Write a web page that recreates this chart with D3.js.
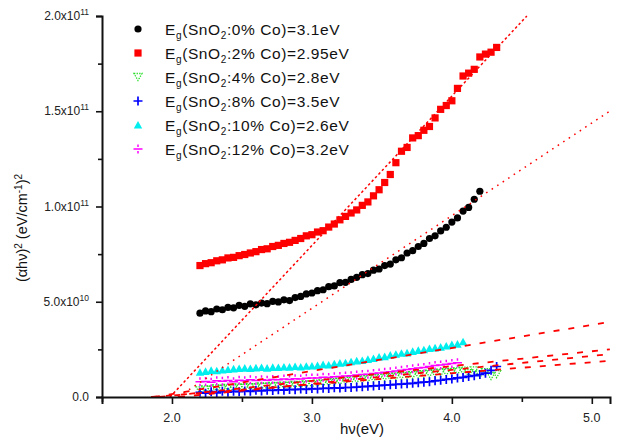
<!DOCTYPE html>
<html>
<head>
<meta charset="utf-8">
<script src="https://cdnjs.cloudflare.com/ajax/libs/d3/7.8.5/d3.min.js"></script>
<style>
  body { margin: 0; background: #fff; }
  svg { display: block; font-family: "Liberation Sans", Arial, sans-serif; }
</style>
</head>
<body>
<svg id="chart" width="620" height="437"></svg>
<script>
// photon energy (eV), shared by all series
const hv = [2.20,2.24,2.28,2.32,2.36,2.40,2.44,2.48,2.52,2.56,2.60,2.64,2.68,2.72,2.76,2.80,2.84,2.88,2.92,2.96,
  3.00,3.04,3.08,3.12,3.16,3.20,3.24,3.28,3.32,3.36,3.40,3.44,3.48,3.52,3.56,3.60,3.64,3.68,3.72,3.76,
  3.80,3.84,3.88,3.92,3.96,4.00,4.04,4.08,4.12,4.16,4.20,4.24,4.28,4.32];

// (alpha h nu)^2 in units of 1e11
const co0 = [0.44,0.452,0.448,0.462,0.458,0.47,0.468,0.481,0.476,0.489,0.484,0.493,0.49,0.502,0.499,0.51,0.506,0.522,0.528,0.541,
  0.546,0.558,0.563,0.579,0.583,0.6,0.602,0.617,0.628,0.642,0.648,0.666,0.672,0.69,0.698,0.72,0.731,0.756,0.768,0.79,
  0.806,0.832,0.846,0.872,0.891,0.918,0.94,0.976,0.995,1.038,1.08];
const co2 = [0.69,0.70,0.705,0.715,0.72,0.73,0.733,0.742,0.748,0.756,0.763,0.774,0.778,0.79,0.796,0.806,0.812,0.822,0.832,0.846,
  0.852,0.866,0.873,0.892,0.908,0.93,0.948,0.966,0.982,1.006,1.024,1.056,1.088,1.126,1.168,1.23,1.29,1.31,1.36,1.372,
  1.40,1.42,1.465,1.51,1.53,1.555,1.62,1.685,1.70,1.72,1.785,1.80,1.81,1.835];
const co4 = [0.035,0.04,0.038,0.045,0.042,0.048,0.045,0.05,0.048,0.052,0.05,0.055,0.053,0.058,0.056,0.06,0.058,0.063,0.062,0.066,
  0.065,0.07,0.072,0.075,0.078,0.08,0.085,0.088,0.09,0.092,0.095,0.098,0.1,0.103,0.105,0.108,0.11,0.112,0.115,0.118,
  0.12,0.122,0.125,0.128,0.13,0.132,0.135,0.138,0.125,0.14,0.118,0.13,0.11,0.12];
const co8 = [0.025,0.02,0.028,0.022,0.03,0.025,0.03,0.028,0.032,0.03,0.035,0.032,0.036,0.034,0.038,0.036,0.04,0.038,0.042,0.04,
  0.044,0.042,0.046,0.045,0.048,0.047,0.05,0.05,0.052,0.054,0.056,0.058,0.06,0.062,0.064,0.066,0.068,0.07,0.072,0.075,
  0.078,0.08,0.085,0.088,0.092,0.095,0.1,0.103,0.108,0.112,0.118,0.125,0.14,0.16];
const co10 = [0.13,0.135,0.14,0.138,0.142,0.145,0.148,0.15,0.152,0.15,0.153,0.155,0.152,0.156,0.155,0.158,0.157,0.16,0.158,0.162,
  0.163,0.165,0.17,0.168,0.175,0.178,0.18,0.185,0.19,0.192,0.198,0.202,0.21,0.212,0.22,0.225,0.23,0.232,0.24,0.245,
  0.248,0.255,0.258,0.262,0.268,0.275,0.278,0.29];
const co12 = [0.08,0.082,0.078,0.085,0.083,0.086,0.08,0.088,0.085,0.09,0.087,0.09,0.088,0.092,0.09,0.094,0.092,0.096,0.095,0.098,
  0.1,0.1,0.104,0.102,0.106,0.108,0.11,0.112,0.115,0.118,0.12,0.124,0.126,0.13,0.133,0.136,0.14,0.145,0.148,0.152,
  0.155,0.16,0.165,0.168,0.172,0.176,0.18];

const legendPct = ["0%", "2%", "4%", "8%", "10%", "12%"];
const legendEg = ["3.1", "2.95", "2.8", "3.5", "2.6", "3.2"];

// tangent (fit) lines: [x0, x1] in eV, [y0, y1] in 1e11
const fitX = [[1.986, 4.536], [2.043, 5.129], [1.871, 5.129], [1.91, 5.129], [2.05, 5.129], [1.85, 5.129]];
const fitY = [[0, 2.0], [0, 1.501], [0, 0.394], [0, 0.25], [0, 0.225], [0, 0.19]];
const fitDash = ["2.5,2.5", "1.6,5", "6,9", "6,9", "6,9", "6,9"];

const xTicks = [2, 3, 4, 5];
const xTickLabels = ["2.0", "3.0", "4.0", "5.0"];
const xMinor = [1.5, 2.5, 3.5, 4.5];
const yTicks = [0, 0.5, 1.0, 1.5, 2.0];
const yTickLabels = [["0.0", ""], ["5.0x10", "10"], ["1.0x10", "11"], ["1.5x10", "11"], ["2.0x10", "11"]];
const yMinor = [0.25, 0.75, 1.25, 1.75];

const svg = d3.select("#chart");
const x = d3.scaleLinear().domain([1.5, 5.13]).range([102, 610]);
const y = d3.scaleLinear().domain([0, 2.0]).range([397, 16]);

const series = [
  { vals: co0, color: "#000000", shape: "circle" },
  { vals: co2, color: "#ff0000", shape: "square" },
  { vals: co4, color: "#22dd22", shape: "tridown" },
  { vals: co8, color: "#0000ff", shape: "plus" },
  { vals: co10, color: "#00eeee", shape: "triup" },
  { vals: co12, color: "#ff00ff", shape: "divide" }
];

function marker(g, shape, color, cx, cy) {
  if (shape === "circle") {
    g.append("circle").attr("cx", cx).attr("cy", cy).attr("r", 3.6).attr("fill", color);
  } else if (shape === "square") {
    g.append("rect").attr("x", cx - 3.6).attr("y", cy - 3.6).attr("width", 7.2).attr("height", 7.2).attr("fill", color);
  } else if (shape === "tridown") {
    g.append("path").attr("d", `M${cx-4},${cy-3.5}L${cx+4},${cy-3.5}L${cx},${cy+3.5}Z`)
      .attr("fill", "none").attr("stroke", color).attr("stroke-width", 1.3).attr("stroke-dasharray", "1.3,1.3");
  } else if (shape === "plus") {
    g.append("path").attr("d", `M${cx-4.5},${cy}H${cx+4.5}M${cx},${cy-4.5}V${cy+4.5}`)
      .attr("stroke", color).attr("stroke-width", 1.7);
  } else if (shape === "triup") {
    g.append("path").attr("d", `M${cx-4.2},${cy+3.6}L${cx+4.2},${cy+3.6}L${cx},${cy-4}Z`).attr("fill", color);
  } else if (shape === "divide") {
    g.append("path").attr("d", `M${cx-4.5},${cy}H${cx+4.5}M${cx},${cy-4.5}V${cy-2}M${cx},${cy+2}V${cy+4.5}`)
      .attr("stroke", color).attr("stroke-width", 1.5);
  }
}

// data points
const pts = svg.append("g");
series.forEach(s => {
  const g = pts.append("g");
  s.vals.forEach((v, i) => marker(g, s.shape, s.color, x(hv[i]), y(v)));
});

// fit lines
svg.append("defs").append("clipPath").attr("id", "plot")
  .append("rect").attr("x", 102).attr("y", 10).attr("width", 510).attr("height", 387);
const lines = svg.append("g").attr("clip-path", "url(#plot)");
fitX.forEach((fx, i) => {
  lines.append("line")
    .attr("x1", x(fx[0])).attr("y1", y(fitY[i][0]))
    .attr("x2", x(fx[1])).attr("y2", y(fitY[i][1]))
    .attr("stroke", "#ff0000").attr("stroke-width", i < 2 ? 1.5 : 1.8)
    .attr("stroke-dasharray", fitDash[i]);
});

// axes
const xAxis = svg.append("g").attr("transform", "translate(0,397)")
  .call(d3.axisBottom(x).tickValues(xTicks).tickSize(7).tickFormat(""));
svg.append("g").attr("transform", "translate(0,397)")
  .call(d3.axisBottom(x).tickValues(xMinor).tickSize(5).tickFormat(""))
  .select(".domain").remove();
const yAxis = svg.append("g").attr("transform", "translate(102,0)")
  .call(d3.axisLeft(y).tickValues(yTicks).tickSize(6).tickFormat(""));
svg.append("g").attr("transform", "translate(102,0)")
  .call(d3.axisLeft(y).tickValues(yMinor).tickSize(4).tickFormat(""))
  .select(".domain").remove();
svg.selectAll(".domain").attr("stroke-width", 2).attr("stroke", "#111");
svg.selectAll(".tick line").attr("stroke-width", 1.6).attr("stroke", "#111");

xTicks.forEach((t, i) => {
  svg.append("text").attr("x", x(t)).attr("y", 422).attr("text-anchor", "middle")
    .attr("font-size", 12.5).attr("fill", "#222").text(xTickLabels[i]);
});
yTicks.forEach((t, i) => {
  const tx = svg.append("text").attr("x", 89).attr("y", y(t) + 4).attr("text-anchor", "end")
    .attr("font-size", 12).attr("fill", "#222");
  tx.append("tspan").text(yTickLabels[i][0]);
  if (yTickLabels[i][1]) {
    tx.append("tspan").attr("dy", -5).attr("font-size", 8.5).text(yTickLabels[i][1]);
  }
});

// axis titles
svg.append("text").attr("x", 362).attr("y", 434).attr("text-anchor", "middle")
  .attr("font-size", 15).attr("fill", "#111").text("hν(eV)");
const yt = svg.append("text").attr("transform", "translate(27,228) rotate(-90)")
  .attr("text-anchor", "middle").attr("font-size", 14.5).attr("fill", "#111");
yt.append("tspan").text("(αhν)");
yt.append("tspan").attr("dy", -5).attr("font-size", 10).text("2");
yt.append("tspan").attr("dy", 5).text(" (eV/cm");
yt.append("tspan").attr("dy", -5).attr("font-size", 10).text("-1");
yt.append("tspan").attr("dy", 5).text(")");
yt.append("tspan").attr("dy", -5).attr("font-size", 10).text("2");

// legend
const leg = svg.append("g");
const rowY = [29, 53, 77, 101, 125, 149];
series.forEach((s, i) => {
  marker(leg, s.shape, s.color, 138, rowY[i]);
  const t = leg.append("text").attr("x", 165).attr("y", rowY[i] + 6)
    .attr("font-size", 15.5).attr("letter-spacing", 0.6).attr("fill", "#111");
  t.append("tspan").text("E");
  t.append("tspan").attr("dy", 4).attr("font-size", 10).text("g");
  t.append("tspan").attr("dy", -4).text("(SnO");
  t.append("tspan").attr("dy", 4).attr("font-size", 10).text("2");
  t.append("tspan").attr("dy", -4).text(":" + legendPct[i] + " Co)=" + legendEg[i] + "eV");
});
</script>
</body>
</html>
